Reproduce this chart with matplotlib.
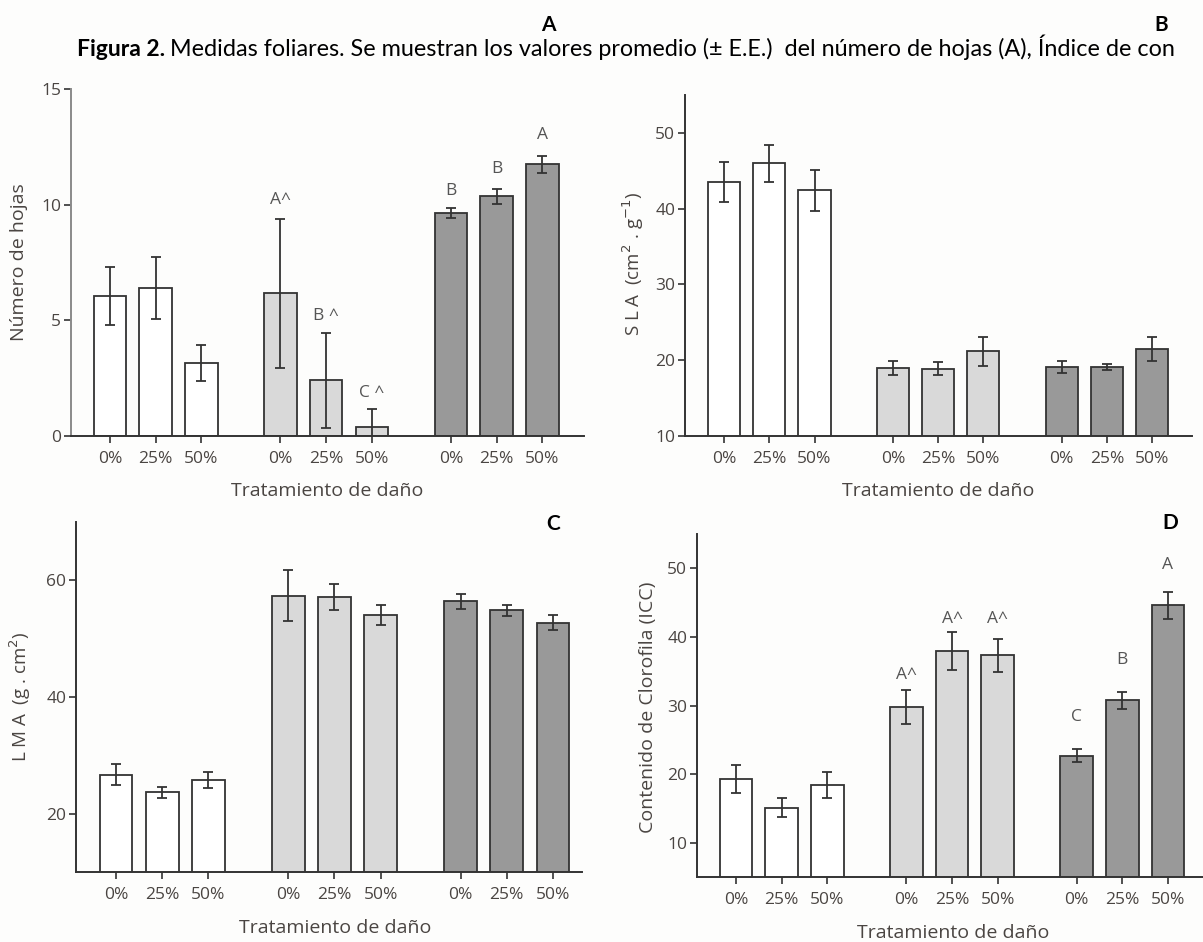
import matplotlib.pyplot as plt

plt.rcParams['font.family'] = ['Open Sans', 'DejaVu Sans']

W, H = 1203, 942

# ---- datos ----
dano = ['0%', '25%', '50%'] * 3
colores = ['#ffffff'] * 3 + ['#d9d9d9'] * 3 + ['#999999'] * 3

hojas = [6.06, 6.38, 3.16, 6.16, 2.41, 0.40, 9.64, 10.36, 11.74]
hojas_ee = [1.26, 1.34, 0.78, 3.23, 2.06, 0.77, 0.22, 0.33, 0.35]
hojas_letras = ['', '', '', 'A^', 'B ^', 'C ^', 'B', 'B', 'A']

sla = [43.5, 46.0, 42.4, 18.97, 18.9, 21.2, 19.1, 19.1, 21.5]
sla_ee = [2.65, 2.45, 2.7, 0.95, 0.85, 1.9, 0.83, 0.4, 1.6]

lma = [26.7, 23.7, 25.8, 57.4, 57.15, 54.1, 56.4, 54.9, 52.75]
lma_ee = [1.8, 0.95, 1.4, 4.45, 2.2, 1.7, 1.25, 0.95, 1.3]

icc = [19.3, 15.1, 18.4, 29.8, 37.95, 37.3, 22.7, 30.75, 44.6]
icc_ee = [2.05, 1.4, 1.9, 2.45, 2.75, 2.4, 1.0, 1.25, 2.0]
icc_letras = ['', '', '', 'A^', 'A^', 'A^', 'C', 'B', 'A']

# posicion de las barras: tres grupos de tres
pos = [0, 1, 2, 3.73, 4.73, 5.73, 7.46, 8.46, 9.46]

TXT = '#4a4542'

fig = plt.figure(figsize=(W / 100, H / 100), dpi=100, facecolor='#fdfdfc')


def px(x, y):
    return x / W, 1 - y / H


def panel(left, top, right, bottom, medias, ee, ylim, yticks, xlim):
    x0, y0 = px(left, bottom)
    ax = fig.add_axes([x0, y0, (right - left) / W, (bottom - top) / H])
    ax.patch.set_alpha(0)
    ax.bar(pos, medias, width=0.71, color=colores, edgecolor='#333333',
           linewidth=1.3, zorder=2)
    ax.errorbar(pos, medias, yerr=ee, fmt='none', ecolor='#333333',
                elinewidth=1.3, capsize=3.5, capthick=1.3, zorder=3)
    ax.set_ylim(*ylim)
    ax.set_xlim(*xlim)
    ax.set_yticks(yticks)
    ax.set_xticks(pos)
    ax.set_xticklabels(dano)
    for s in ['top', 'right']:
        ax.spines[s].set_visible(False)
    for s in ['left', 'bottom']:
        ax.spines[s].set_linewidth(1.4)
        ax.spines[s].set_color('#333333')
    ax.tick_params(axis='x', length=5, width=1.2, color='#333333', pad=6,
                   labelsize=12.5, labelcolor=TXT)
    ax.tick_params(axis='y', length=5, width=1.2, color='#333333', pad=2,
                   labelsize=12.5, labelcolor=TXT)
    return ax


# A: numero de hojas
axA = panel(71, 89, 584, 436, hojas, hojas_ee, (0, 15), [0, 5, 10, 15], (-0.853, 10.37))
axA.spines['left'].set_color('#8a8a8a')
for x, txt, y in zip(pos, hojas_letras, [0, 0, 0, 10.2, 5.2, 1.85, 10.6, 11.55, 13.0]):
    if txt:
        axA.text(x, y, txt, ha='center', va='center', fontsize=12.5, color='#555555')

# B: SLA
axB = panel(685, 95, 1192, 436, sla, sla_ee, (10, 55), [10, 20, 30, 40, 50], (-0.862, 10.34))

# C: LMA
axC = panel(76, 522, 582, 872, lma, lma_ee, (10, 70), [20, 40, 60], (-0.866, 10.09))

# D: clorofila
axD = panel(697, 534, 1215, 877, icc, icc_ee, (5, 55), [10, 20, 30, 40, 50], (-0.854, 10.49))
for x, txt, y in zip(pos, icc_letras, [0, 0, 0, 34.4, 42.6, 42.6, 28.3, 36.6, 50.5]):
    if txt:
        axD.text(x, y, txt, ha='center', va='center', fontsize=12.5, color='#555555')

# etiquetas de los ejes
for x, y in [(327, 491), (938, 491), (335, 928), (953, 933)]:
    fig.text(*px(x, y), 'Tratamiento de daño', ha='center', va='center',
             fontsize=14, color=TXT)

fig.text(*px(19, 262), 'Número de hojas', rotation=90, ha='center', va='center',
         fontsize=14, color=TXT)
fig.text(*px(633, 264), 'S L A  (cm$^2$ . g$^{-1}$)', rotation=90, ha='center',
         va='center', fontsize=13.5, color=TXT)
fig.text(*px(20, 697), 'L M A  (g . cm$^2$)', rotation=90, ha='center',
         va='center', fontsize=13.5, color=TXT)
fig.text(*px(648, 707), 'Contenido de Clorofila (ICC)', rotation=90, ha='center',
         va='center', fontsize=14, color=TXT)

# letras de los paneles
for x, y, l in [(548, 25, 'A'), (1161, 25, 'B'), (553, 524, 'C'), (1170, 523, 'D')]:
    fig.text(*px(x, y), l, ha='center', va='center', fontsize=15,
             fontweight='bold', family=['Lato', 'DejaVu Sans'], color='black')

# titulo de la figura
t1 = fig.text(*px(77, 56), 'Figura 2.', ha='left', va='baseline', fontsize=16.5,
              fontweight='bold', family=['Lato', 'DejaVu Sans'])
fig.canvas.draw()
bb = t1.get_window_extent()
fig.text((bb.x1 + 5) / W, 1 - 56 / H,
         'Medidas foliares. Se muestran los valores promedio (± E.E.)  del número '
         'de hojas (A), Índice de con',
         ha='left', va='baseline', fontsize=16.8, family=['Lato', 'DejaVu Sans'])

fig.savefig('out.png', dpi=100, facecolor=fig.get_facecolor())
